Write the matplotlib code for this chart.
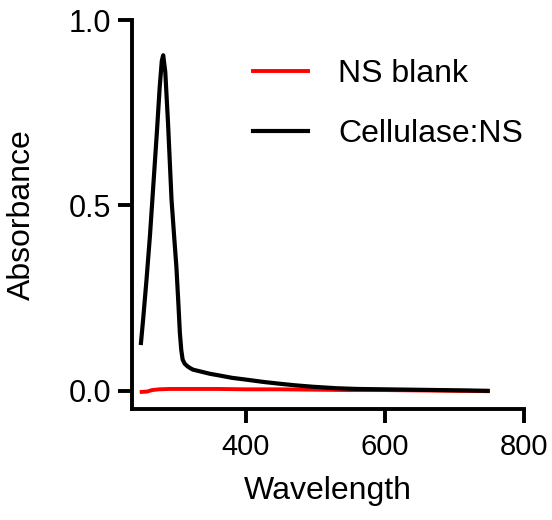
import matplotlib
matplotlib.use("Agg")
import matplotlib.pyplot as plt

plt.rcParams["font.family"] = ["Liberation Sans", "DejaVu Sans"]

# values
wl_sample = [249, 252, 257, 262, 267, 272, 276, 279, 281, 284, 288, 293, 297,
             300, 303, 305, 307, 309, 312, 316, 320, 324, 335, 348, 360, 380,
             401, 425, 449, 470, 496, 530, 560, 600, 640, 680, 720, 748]
abs_sample = [0.129, 0.19, 0.30, 0.42, 0.56, 0.70, 0.82, 0.89, 0.905, 0.86,
              0.72, 0.515, 0.41, 0.334, 0.23, 0.156, 0.11, 0.084, 0.073, 0.066,
              0.061, 0.057, 0.052, 0.046, 0.042, 0.035, 0.030, 0.024, 0.019,
              0.015, 0.011, 0.007, 0.005, 0.004, 0.003, 0.002, 0.001, 0.000]

wl_blank = [250, 258, 265, 275, 290, 320, 360, 400, 450, 500, 550, 600, 650,
            700, 748]
abs_blank = [-0.003, -0.002, 0.002, 0.004, 0.005, 0.005, 0.005, 0.004, 0.004,
             0.003, 0.002, 0.002, 0.001, 0.000, -0.001]

fig = plt.figure(figsize=(5.52, 5.20), dpi=100)
ax = fig.add_axes([0.239, 0.2135, 0.71, 0.748])

ax.plot(wl_blank, abs_blank, color="#ff0000", lw=2.8, label="NS blank")
ax.plot(wl_sample, abs_sample, color="black", lw=3.0, label="Cellulase:NS")

ax.set_xlim(236, 800)
ax.set_ylim(-0.049, 1.0)
ax.set_xticks([400, 600, 800])
ax.set_yticks([0.0, 0.5, 1.0])
ax.set_yticklabels(["0.0", "0.5", "1.0"])
for s in ("top", "right"):
    ax.spines[s].set_visible(False)
for s in ("left", "bottom"):
    ax.spines[s].set_linewidth(2.8)
ax.tick_params(axis="both", direction="out", length=10, width=2.8)
ax.tick_params(axis="x", pad=7, labelsize=21)
ax.tick_params(axis="y", pad=5, labelsize=22)
ax.set_xlabel("Wavelength", fontsize=23, labelpad=11)
ax.set_ylabel("Absorbance", fontsize=23, labelpad=23)

ax.legend(loc="upper left", bbox_to_anchor=(0.2355, 0.9745), frameon=False,
          fontsize=23, handlelength=1.72, handletextpad=0.94, labelspacing=0.95)

fig.savefig("out.png", dpi=100)
